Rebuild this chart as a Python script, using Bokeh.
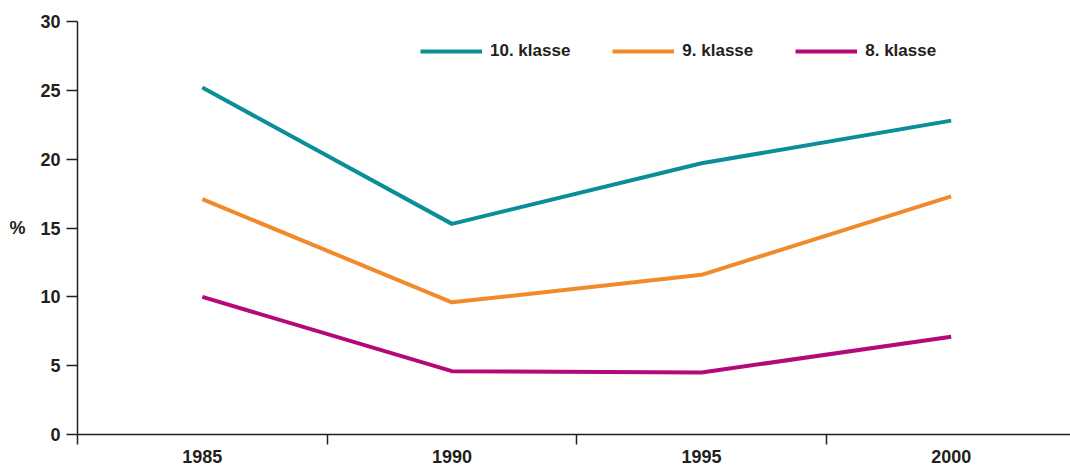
from bokeh.plotting import figure
from bokeh.models import Range1d, FixedTicker, Legend, LegendItem, Label
from bokeh.embed import file_html
from bokeh.resources import INLINE

years = ["1985", "1990", "1995", "2000"]
klasse10 = [25.2, 15.3, 19.7, 22.8]
klasse9 = [17.1, 9.6, 11.6, 17.3]
klasse8 = [10.0, 4.6, 4.5, 7.1]
series_names = ["10. klasse", "9. klasse", "8. klasse"]
colors = ["#0a8f99", "#f08a2b", "#b3097a"]
y_ticks = [0, 5, 10, 15, 20, 25, 30]

FONT = "Liberation Sans"
TXT = "#231f20"

xs = [i + 0.5 for i in range(len(years))]
bounds = list(range(len(years)))

p = figure(width=1070, height=466, output_backend="svg", toolbar_location=None,
           x_range=Range1d(0, 3.978), y_range=Range1d(0, 30),
           min_border_left=77, min_border_right=0, min_border_top=21, min_border_bottom=32)
p.outline_line_color = None
p.grid.visible = False
p.background_fill_color = "white"

renderers = []
for vals, c in zip([klasse10, klasse9, klasse8], colors):
    r = p.line(xs, vals, line_color=c, line_width=4, line_join="round")
    renderers.append(r)

# axes
for ax in [p.xaxis[0], p.yaxis[0]]:
    ax.axis_line_color = TXT
    ax.axis_line_width = 1.5
    ax.major_tick_line_color = TXT
    ax.major_tick_line_width = 1.5
    ax.minor_tick_line_color = TXT
    ax.minor_tick_line_width = 1.5
    ax.major_label_text_font = FONT
    ax.major_label_text_font_style = "bold"
    ax.major_label_text_font_size = "18px"
    ax.major_label_text_color = TXT

p.yaxis.ticker = FixedTicker(ticks=y_ticks, minor_ticks=[])
p.yaxis.major_tick_out = 11
p.yaxis.major_tick_in = 0
p.yaxis.major_label_standoff = 6

yax = p.yaxis[0]
if "axis_label_orientation" in yax.properties():
    yax.axis_label = "%"
    yax.axis_label_orientation = "horizontal"
    yax.axis_label_standoff = 12
    yax.axis_label_text_font = FONT
    yax.axis_label_text_font_style = "bold"
    yax.axis_label_text_font_size = "18px"
    yax.axis_label_text_color = TXT
else:
    pct = Label(x=-0.2366, y=15, text="%", text_align="center", text_baseline="middle",
                text_font=FONT, text_font_style="bold", text_font_size="18px", text_color=TXT)
    p.add_layout(pct)

p.xaxis.ticker = FixedTicker(ticks=xs, minor_ticks=bounds)
p.xaxis.major_label_overrides = {x: y for x, y in zip(xs, years)}
p.xaxis.major_tick_out = 0
p.xaxis.major_tick_in = 0
p.xaxis.minor_tick_out = 10
p.xaxis.minor_tick_in = 0
p.xaxis.major_label_standoff = 5

legend = Legend(items=[LegendItem(label=n, renderers=[r]) for n, r in zip(series_names, renderers)],
                orientation="horizontal", location=(343, 373),
                glyph_width=62, glyph_height=20, label_height=20, label_standoff=8,
                spacing=42, padding=0, margin=0, border_line_color=None,
                background_fill_alpha=0,
                label_text_font=FONT, label_text_font_style="bold",
                label_text_font_size="17px", label_text_color=TXT)
p.add_layout(legend)

open("out.html", "w").write(file_html(p, INLINE))
